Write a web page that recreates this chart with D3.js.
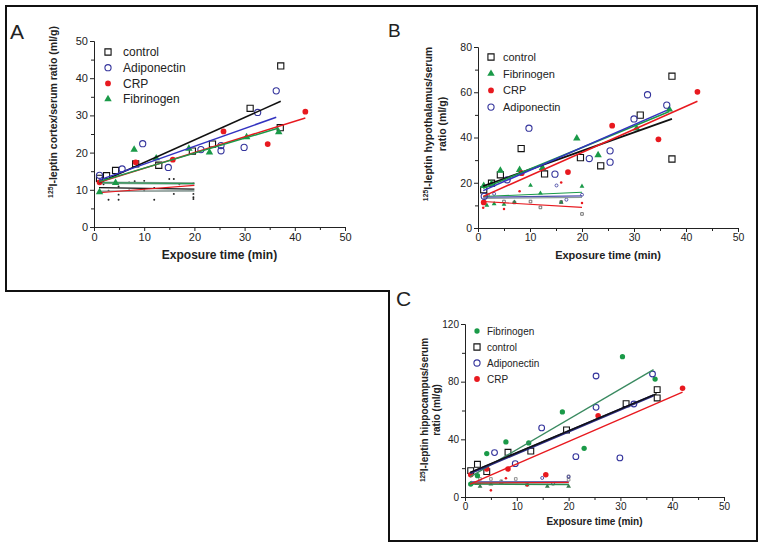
<!DOCTYPE html>
<html><head><meta charset="utf-8">
<script src="https://cdn.jsdelivr.net/npm/d3@7"></script>
<style>
body{margin:0;background:#fff}
text{font-family:"Liberation Sans",Arial,sans-serif;fill:#222}
</style></head><body><script>
// ---------- DATA ----------
const xTickLabels=[0,10,20,30,40,50];
const xMinorTicks=[5,15,25,35,45];
const A_yTicks=[0,10,20,30,40,50], A_yMinor=[5,15,25,35,45];
const B_yTicks=[0,20,40,60,80], B_yMinor=[10,30,50,70];
const C_yTicks=[0,40,80,120], C_yMinor=[20,60,100];

const A_legend=["control","Adiponectin","CRP","Fibrinogen"];
const B_legend=["control","Fibrinogen","CRP","Adiponectin"];
const C_legend=["Fibrinogen","control","Adiponectin","CRP"];

// Panel A (cortex)
const A_control=[[1.1,13.1],[2.5,13.8],[4.3,15.2],[8.3,17.0],[12.9,16.6],[19.6,20.4],[23.6,22.3],[31.1,31.9],[37.2,43.3],[37.1,26.7]];
const A_adipo=[[1.1,13.9],[5.6,15.6],[9.7,22.4],[14.8,16.0],[21.3,20.8],[25.3,21.9],[25.3,20.5],[29.9,21.4],[32.6,30.8],[36.3,36.6]];
const A_crp=[[1.1,12.0],[8.3,17.4],[15.7,18.1],[25.8,25.7],[34.6,22.3],[42.1,31.0]];
const A_fib=[[1.1,9.4],[4.3,11.9],[8.0,20.8],[12.4,18.5],[18.9,21.1],[23.0,20.1],[30.4,24.2],[36.8,25.5]];
const A_low=[[1.9,11.5],[2.9,9.75],[2.9,7.3],[4.9,7.3],[4.9,8.7],[4.9,10.9],[7.0,9.8],[7.0,12.0],[8.1,12.3],[10.0,12.4],[10.0,9.8],[12.0,7.3],[12.0,10.5],[15.0,12.9],[15.9,12.9],[15.9,8.9],[17.0,11.5],[19.8,8.9],[19.8,8.0],[19.8,7.5],[19.8,11.8]];
const A_fit_control=[[1,11.9],[37.2,33.8]];
const A_fit_adipo=[[1,12.6],[36.3,29.5]];
const A_fit_crp=[[1,12.0],[42.1,29.3]];
const A_fit_fib=[[1,12.2],[36.8,26.6]];
const A_lowfit_fib=[[1,11.9],[20,11.7]];
const A_lowfit_control=[[1,10.6],[20,10.2]];
const A_lowfit_crp=[[1,9.2],[20,11.2]];
const A_lowfit_adipo=[[1,9.6],[20,9.7]];

// Panel B (hypothalamus)
const B_control=[[1.1,16.9],[2.6,19.8],[4.3,23.5],[8.3,35.1],[12.8,23.9],[19.7,31.1],[23.6,27.5],[31.2,49.9],[37.3,67.1],[37.3,30.5]];
const B_fib=[[1.1,18.6],[2.6,19.5],[4.3,25.4],[8.0,25.7],[12.4,26.6],[19.0,39.6],[23.1,32.2],[30.5,44.0],[36.8,52.4]];
const B_crp=[[1.1,11.3],[8.4,24.2],[17.3,24.7],[25.8,45.2],[34.7,39.2],[42.2,60.2]];
const B_adipo=[[1.2,14.0],[5.6,21.3],[9.8,44.1],[14.8,23.8],[21.4,30.7],[25.4,34.1],[25.4,29.1],[30.0,48.2],[32.6,58.9],[36.3,54.3]];
const B_low_fib=[[1.7,10.0],[3.1,10.7],[5,10.4],[7,11.4],[10.1,18.8],[12,15.4],[16,11.3],[20,18.4]];
const B_low_crp=[[1,9.0],[5,8.4],[8,16.2],[16,20.1],[20,11.0]];
const B_low_adipo=[[3.1,15.1],[15.1,18.8],[17,12.5],[20,14.7]];
const B_low_control=[[1.9,14.7],[5,11.7],[7,11.3],[10.1,11.7],[12,9.1],[16,11.5],[20,6.2]];
const B_fit_control=[[1,18.5],[37.3,48.2]];
const B_fit_fib=[[1,17.5],[36.8,51.5]];
const B_fit_crp=[[1,14.0],[42.2,56.0]];
const B_fit_adipo=[[1,16.5],[36.3,52.0]];
const B_lowfit_fib=[[1,13.9],[20,15.8]];
const B_lowfit_adipo=[[1,13.6],[20,14.2]];
const B_lowfit_crp=[[1,11.7],[20,9.1]];
const B_lowfit_control=[[1,13.1],[20,13.5]];

// Panel C (hippocampus)
const C_fib=[[1.1,9.0],[2.4,14.8],[4.2,30.1],[7.9,38.2],[12.3,37.5],[18.8,59.0],[23.0,33.8],[30.4,97.3],[36.7,81.8]];
const C_control=[[1.1,18.3],[2.4,22.7],[4.2,17.6],[8.3,31.0],[12.7,31.9],[19.6,46.5],[31.1,64.7],[37.1,74.5],[37.1,68.7]];
const C_adipo=[[5.7,30.8],[9.7,23.1],[14.8,47.9],[21.4,28.0],[25.3,83.9],[25.3,62.2],[29.9,27.1],[32.6,64.5],[36.2,85.3]];
const C_crp=[[1.1,15.5],[4.2,19.4],[8.3,19.4],[15.6,15.5],[25.7,56.4],[42.0,75.4]];
const C_low_fib=[[1.2,9.5],[2.3,9.2],[2.9,7.4],[5,9],[7,10.2],[12,8.5],[15.9,7.4],[20,7.4]];
const C_low_control=[[2.9,12.5],[5,12.5],[7,10.9],[9.8,12.5],[12,9.2],[17,9.2],[20,12],[20,14.3]];
const C_low_crp=[[2.9,9.7],[5,4.6],[7.9,13],[12,7.9]];
const C_low_adipo=[[14.9,13.2],[17,9.5],[20,14]];
const C_fit_fib=[[1,14.0],[36.4,88.3]];
const C_fit_adipo=[[1,16.5],[36.4,70.5]];
const C_fit_control=[[1,17.1],[37,71.7]];
const C_fit_crp=[[1,9.0],[42,72.8]];
const C_lowfit_adipo=[[1,10.6],[20,10.6]];
const C_lowfit_control=[[1,10.0],[20,10.0]];
const C_lowfit_crp=[[1,9.5],[20,10.2]];
const C_lowfit_fib=[[1,8.9],[20,8.7]];

// ---------- STYLE ----------
const COL={control:"#111",adipo:"#34349c",crp:"#e8191f",fib:"#1a9a48",grey:"#8c9c98"};
const W=764,H=548;
const svg=d3.select("body").append("svg").attr("width",W).attr("height",H);

// outer frame
svg.append("path").attr("d",`M6,6H757V541H389V291H6Z`)
  .attr("fill","none").attr("stroke","#111").attr("stroke-width",2);

function sym(g,pts,x,y,shape,color,fill,size,sw){
  const types={square:d3.symbolSquare,circle:d3.symbolCircle,triangle:d3.symbolTriangle};
  g.selectAll(null).data(pts).join("path")
    .attr("d",d3.symbol(types[shape],size))
    .attr("transform",d=>`translate(${x(d[0])},${y(d[1])})`)
    .attr("fill",fill?color:"none").attr("stroke",fill?"none":color).attr("stroke-width",sw||1.1);
}
function fitLine(g,pts,x,y,color,w){
  g.append("path").attr("d",d3.line().x(d=>x(d[0])).y(d=>y(d[1]))(pts))
   .attr("fill","none").attr("stroke",color).attr("stroke-width",w);
}

function panel(c){
  const g=svg.append("g");
  const x=d3.scaleLinear().domain([0,50]).range([c.x0,c.x1]);
  const y=d3.scaleLinear().domain([0,c.ymax]).range([c.y0,c.y1]);
  // axes
  const ax=g.append("g").attr("transform",`translate(0,${c.y0})`)
    .call(d3.axisBottom(x).tickValues(xTickLabels).tickSize(4).tickSizeOuter(0).tickPadding(2));
  g.append("g").attr("transform",`translate(0,${c.y0})`)
    .call(d3.axisBottom(x).tickValues(xMinorTicks).tickSize(3).tickSizeOuter(0).tickFormat(""));
  const ay=g.append("g").attr("transform",`translate(${c.x0},0)`)
    .call(d3.axisLeft(y).tickValues(c.yTicks).tickSize(4).tickSizeOuter(0).tickPadding(2));
  g.append("g").attr("transform",`translate(${c.x0},0)`)
    .call(d3.axisLeft(y).tickValues(c.yMinor).tickSize(3).tickSizeOuter(0).tickFormat(""));
  g.selectAll(".domain").attr("stroke","#222");
  g.selectAll(".tick line").attr("stroke","#222");
  g.selectAll(".tick text").attr("font-size",c.tickFont).attr("fill","#333")
    .attr("font-family",'"Liberation Sans",Arial,sans-serif');

  // low series
  c.low.forEach(s=>sym(g,s.pts,x,y,s.shape,s.color,s.fill,s.size,0.8));
  c.lowfits.forEach(s=>fitLine(g,s.pts,x,y,s.color,s.w||1.1));
  // main markers
  c.series.forEach(s=>sym(g,s.pts,x,y,s.shape,s.color,s.fill,s.size,1.1));
  c.fits.forEach(s=>fitLine(g,s.pts,x,y,s.color,s.w||1.5));

  // x title
  g.append("text").attr("x",(c.x0+c.x1)/2).attr("y",c.xTitleY).attr("text-anchor","middle")
    .attr("font-size",c.titleFont).attr("font-weight","bold").attr("fill","#111").text("Exposure time (min)");
  // y title
  c.yLines.forEach((ln,i)=>{
    const t=g.append("text").attr("transform",`translate(${c.yLabelX[i]},${c.yLabelY}) rotate(-90)`)
      .attr("text-anchor","middle").attr("font-size",c.yFont).attr("font-weight","bold").attr("fill","#111");
    if(ln.sup){ t.append("tspan").attr("font-size",c.yFont*0.65).attr("dy",-c.yFont*0.35).text(ln.sup);
      t.append("tspan").attr("dy",c.yFont*0.35).text(ln.text);} else t.text(ln.text);
  });
  // legend
  c.legend.forEach((name,i)=>{
    const s=c.legendStyle[i];
    const ly=c.legY+i*c.legDy;
    g.append("path").attr("d",d3.symbol({square:d3.symbolSquare,circle:d3.symbolCircle,triangle:d3.symbolTriangle}[s.shape],s.size))
      .attr("transform",`translate(${c.legX},${ly})`)
      .attr("fill",s.fill?s.color:"none").attr("stroke",s.fill?"none":s.color).attr("stroke-width",1.1);
    g.append("text").attr("x",c.legTextX).attr("y",ly+c.legFont*0.36).attr("font-size",c.legFont).attr("fill","#222").text(name);
  });
  // panel letter
  g.append("text").attr("x",c.letterX).attr("y",c.letterY).attr("font-size",c.letterFont)
    .attr("font-family",'"Open Sans",sans-serif').attr("fill","#111").text(c.letter);
}

const stCtrl={shape:"square",color:COL.control,fill:false,size:38};
const stAd={shape:"circle",color:COL.adipo,fill:false,size:30};
const stCrp={shape:"circle",color:COL.crp,fill:true,size:26};
const stFib={shape:"triangle",color:COL.fib,fill:true,size:24};
const stFibC={shape:"circle",color:COL.fib,fill:true,size:22};

panel({letter:"A",letterX:10,letterY:39,letterFont:21,
  x0:94,x1:345,y0:227,y1:41,ymax:50,yTicks:A_yTicks,yMinor:A_yMinor,tickFont:11,
  titleFont:12,xTitleY:259,yFont:10.5,yLabelX:[57],yLabelY:112,
  yLines:[{sup:"125",text:"I-leptin cortex/serum ratio (ml/g)"}],
  legend:A_legend,legendStyle:[stCtrl,stAd,stCrp,stFib],legX:108,legY:52,legDy:15.7,legTextX:123,legFont:12,
  low:[{pts:A_low,shape:"circle",color:"#222",fill:true,size:3}],
  lowfits:[{pts:A_lowfit_fib,color:COL.grey,w:2.6},{pts:A_lowfit_fib,color:COL.fib,w:1},
           {pts:A_lowfit_control,color:COL.control,w:1.2},{pts:A_lowfit_adipo,color:COL.grey,w:1.6},
           {pts:A_lowfit_crp,color:COL.crp,w:1.2}],
  series:[{pts:A_control,...stCtrl},{pts:A_adipo,...stAd},{pts:A_crp,...stCrp},{pts:A_fib,...stFib}],
  fits:[{pts:A_fit_control,color:COL.control},{pts:A_fit_adipo,color:"#3333c0"},{pts:A_fit_crp,color:COL.crp},{pts:A_fit_fib,color:COL.fib}]
});

panel({letter:"B",letterX:388,letterY:37,letterFont:19,
  x0:478,x1:738,y0:228,y1:47,ymax:80,yTicks:B_yTicks,yMinor:B_yMinor,tickFont:10.5,
  titleFont:11,xTitleY:259,yFont:10.5,yLabelX:[432,446],yLabelY:124,
  yLines:[{sup:"125",text:"I-leptin hypothalamus/serum"},{text:"ratio (ml/g)"}],
  legend:B_legend,legendStyle:[stCtrl,stFib,stCrp,stAd],legX:491,legY:57,legDy:16.7,legTextX:503,legFont:11,
  low:[{pts:B_low_fib,shape:"triangle",color:COL.fib,fill:true,size:10},
       {pts:B_low_crp,shape:"circle",color:COL.crp,fill:true,size:5},
       {pts:B_low_adipo,shape:"circle",color:COL.adipo,fill:false,size:7},
       {pts:B_low_control,shape:"square",color:"#555",fill:false,size:7}],
  lowfits:[{pts:B_lowfit_control,color:COL.grey,w:1.2},{pts:B_lowfit_fib,color:COL.fib},{pts:B_lowfit_adipo,color:"#5050b0"},{pts:B_lowfit_crp,color:COL.crp}],
  series:[{pts:B_control,...stCtrl},{pts:B_fib,...stFib},{pts:B_crp,...stCrp},{pts:B_adipo,...stAd}],
  fits:[{pts:B_fit_control,color:COL.control,w:1.8},{pts:B_fit_fib,color:COL.fib},{pts:B_fit_adipo,color:"#3333c0"},{pts:B_fit_crp,color:COL.crp}]
});

panel({letter:"C",letterX:396,letterY:306,letterFont:21,
  x0:465,x1:724,y0:497,y1:324,ymax:120,yTicks:C_yTicks,yMinor:C_yMinor,tickFont:10,
  titleFont:10,xTitleY:525,yFont:10,yLabelX:[428,440],yLabelY:410,
  yLines:[{sup:"125",text:"I-leptin hippocampus/serum"},{text:"ratio (ml/g)"}],
  legend:C_legend,legendStyle:[stFibC,stCtrl,stAd,stCrp],legX:477,legY:331,legDy:16,legTextX:487,legFont:10,
  low:[{pts:C_low_fib,shape:"triangle",color:"#3a7a50",fill:true,size:10},
       {pts:C_low_control,shape:"square",color:"#777",fill:false,size:7},
       {pts:C_low_crp,shape:"circle",color:COL.crp,fill:true,size:5},
       {pts:C_low_adipo,shape:"circle",color:COL.adipo,fill:false,size:7}],
  lowfits:[{pts:C_lowfit_adipo,color:"#6a6ab0",w:1.4},{pts:C_lowfit_control,color:"#777",w:1.2},{pts:C_lowfit_crp,color:COL.crp,w:1.3},{pts:C_lowfit_fib,color:"#2a8a50",w:1.4}],
  series:[{pts:C_fib,...stFibC},{pts:C_control,...stCtrl,size:34},{pts:C_adipo,...stAd,size:26},{pts:C_crp,...stCrp,size:24}],
  fits:[{pts:C_fit_fib,color:"#3a8a60",w:1.4},{pts:C_fit_adipo,color:"#2a2a80",w:2.4},{pts:C_fit_control,color:COL.control,w:1.4},{pts:C_fit_crp,color:COL.crp,w:1.4}]
});
</script></body></html>
